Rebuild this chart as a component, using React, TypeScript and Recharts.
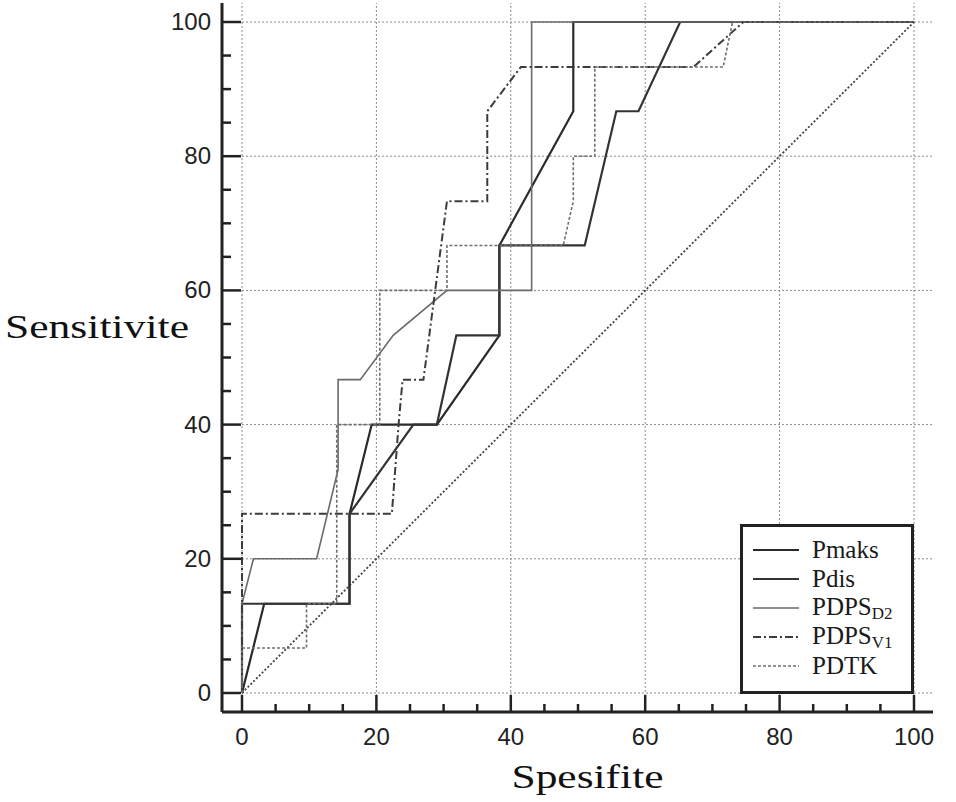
import { LineChart, Line, XAxis, YAxis, ReferenceLine, Legend } from 'recharts'

// axis ticks: labels every 20, small ticks every 5
const TICKS = [0, 5, 10, 15, 20, 25, 30, 35, 40, 45, 50, 55, 60, 65, 70, 75, 80, 85, 90, 95, 100]
const GRID = [0, 20, 40, 60, 80, 100]

// ROC curves (x = "Spesifite" axis, y = "Sensitivite")
const pmaksX = [0, 3.3, 16, 16, 19.3, 29, 38.3, 38.3, 49.3, 49.3, 100]
const pmaksY = [0, 13.3, 13.3, 26.7, 40, 40, 53.3, 66.7, 86.7, 100, 100]

const pdisX = [0, 0, 16, 16, 25.5, 29, 31.9, 38.3, 38.3, 51, 55.7, 59, 65.2, 100]
const pdisY = [0, 13.3, 13.3, 26.7, 40, 40, 53.3, 53.3, 66.7, 66.7, 86.7, 86.7, 100, 100]

const pdpsD2X = [0, 0, 1.7, 11.1, 14.3, 14.3, 17.6, 22.5, 30.5, 43.1, 43.1, 100]
const pdpsD2Y = [0, 13.3, 20, 20, 33.3, 46.7, 46.7, 53.3, 60, 60, 100, 100]

const pdpsV1X = [0, 0, 22.3, 23.3, 23.9, 27, 30.5, 36.5, 36.5, 41.5, 67.2, 74.6, 100]
const pdpsV1Y = [0, 26.7, 26.7, 40, 46.7, 46.7, 73.3, 73.3, 86.7, 93.3, 93.3, 100, 100]

const pdtkX = [0, 0, 9.6, 9.6, 14.1, 14.1, 20.5, 20.5, 30.5, 30.5, 47.8, 49.3, 49.3, 52.5, 52.5, 71.6, 73, 100]
const pdtkY = [0, 6.7, 6.7, 13.3, 13.3, 40, 40, 60, 60, 66.7, 66.7, 73.3, 80, 80, 93.3, 93.3, 100, 100]

const chanceX = [0, 100]
const chanceY = [0, 100]

function toPoints(xs: number[], ys: number[]) {
  return xs.map((x, i) => ({ x, y: ys[i] }))
}

const SERIES = [
  { name: 'Pmaks', sub: '', data: toPoints(pmaksX, pmaksY), stroke: '#2a2a2a', width: 2.2, dash: undefined },
  { name: 'Pdis', sub: '', data: toPoints(pdisX, pdisY), stroke: '#333333', width: 2.2, dash: undefined },
  { name: 'PDPS', sub: 'D2', data: toPoints(pdpsD2X, pdpsD2Y), stroke: '#6a6a6a', width: 1.6, dash: undefined },
  { name: 'PDPS', sub: 'V1', data: toPoints(pdpsV1X, pdpsV1Y), stroke: '#3c3c3c', width: 2, dash: '8 3 2 3' },
  { name: 'PDTK', sub: '', data: toPoints(pdtkX, pdtkY), stroke: '#6e6e6e', width: 1.6, dash: '3 2' },
]

const AXIS = '#222'
const SANS = '"Liberation Sans", Arial, sans-serif'
const SERIF = '"Liberation Serif", "Times New Roman", serif'

function YTick({ x, y, payload }: any) {
  const v = payload.value
  const major = v % 20 === 0
  return (
    <g>
      <line x1={x} x2={x + (major ? 19 : 9)} y1={y} y2={y} stroke={AXIS} strokeWidth={2.5} />
      {major && (
        <text x={x - 11} y={y + 8} textAnchor="end" fontFamily={SANS} fontSize={24} fill="#222">
          {v}
        </text>
      )}
    </g>
  )
}

function XTick({ x, y, payload }: any) {
  const v = payload.value
  const major = v % 20 === 0
  return (
    <g>
      <line x1={x} x2={x} y1={y} y2={y - (major ? 17 : 8)} stroke={AXIS} strokeWidth={2.5} />
      {major && (
        <text x={x} y={y + 33} textAnchor="middle" fontFamily={SANS} fontSize={24} fill="#222">
          {v}
        </text>
      )}
    </g>
  )
}

function YTitle({ viewBox }: any) {
  return (
    <text
      x={viewBox.x + 5}
      y={viewBox.y + viewBox.height / 2 - 20}
      fontFamily={SERIF}
      fontSize={34}
      fill="#111"
      textLength={184}
      lengthAdjust="spacingAndGlyphs"
    >
      Sensitivite
    </text>
  )
}

function XTitle({ viewBox }: any) {
  return (
    <text
      x={viewBox.x + viewBox.width / 2 + 10}
      y={viewBox.y + 76}
      textAnchor="middle"
      fontFamily={SERIF}
      fontSize={34}
      fill="#111"
      textLength={152}
      lengthAdjust="spacingAndGlyphs"
    >
      Spesifite
    </text>
  )
}

function LegendBox() {
  return (
    <div
      style={{
        border: `3px solid ${AXIS}`,
        background: '#fff',
        boxSizing: 'border-box',
        width: 174,
        height: 170,
        padding: '8px 0 0 10px',
        fontFamily: SERIF,
        fontSize: 25,
        color: '#1a1a1a',
      }}
    >
      {SERIES.map((s) => (
        <div key={s.name + s.sub} style={{ display: 'flex', alignItems: 'center', height: 29 }}>
          <svg width={46} height={10} style={{ marginRight: 13 }}>
            <line x1={0} x2={46} y1={5} y2={5} stroke={s.stroke} strokeWidth={s.width} strokeDasharray={s.dash} />
          </svg>
          <span style={{ lineHeight: '29px' }}>
            {s.name}
            {s.sub && <span style={{ fontSize: 17, position: 'relative', top: 4 }}>{s.sub}</span>}
          </span>
        </div>
      ))}
    </div>
  )
}

export default function App() {
  return (
    <div style={{ position: 'absolute', left: 0, top: 0, width: 956, height: 802, background: '#fff' }}>
      <LineChart width={956} height={802} margin={{ top: 3, right: 23, left: 0, bottom: 0 }}>
        <XAxis
          type="number"
          dataKey="x"
          domain={[0, 100]}
          ticks={TICKS}
          interval={0}
          height={90}
          padding={{ left: 20, right: 19 }}
          tickSize={0}
          tickMargin={0}
          tick={<XTick />}
          axisLine={{ stroke: AXIS, strokeWidth: 3 }}
          tickLine={false}
          label={<XTitle />}
          allowDuplicatedCategory={false}
        />
        <YAxis
          type="number"
          dataKey="y"
          domain={[0, 100]}
          ticks={TICKS}
          interval={0}
          width={222}
          padding={{ top: 19, bottom: 19 }}
          tickSize={0}
          tickMargin={0}
          tick={<YTick />}
          axisLine={{ stroke: AXIS, strokeWidth: 3 }}
          tickLine={false}
          label={<YTitle />}
        />
        {GRID.map((g) => (
          <ReferenceLine key={'vx' + g} x={g} stroke="#8a8a8a" strokeDasharray="2 2" strokeWidth={1} />
        ))}
        {GRID.map((g) => (
          <ReferenceLine key={'hy' + g} y={g} stroke="#8a8a8a" strokeDasharray="2 2" strokeWidth={1} />
        ))}
        <Line
          data={toPoints(chanceX, chanceY)}
          dataKey="y"
          type="linear"
          stroke="#444"
          strokeWidth={1.8}
          strokeDasharray="2 2"
          dot={false}
          legendType="none"
          isAnimationActive={false}
        />
        {SERIES.map((s) => (
          <Line
            key={s.name + s.sub}
            name={s.name + s.sub}
            data={s.data}
            dataKey="y"
            type="linear"
            stroke={s.stroke}
            strokeWidth={s.width}
            strokeDasharray={s.dash}
            dot={false}
            isAnimationActive={false}
          />
        ))}
        <Legend
          layout="vertical"
          align="center"
          verticalAlign="middle"
          content={<LegendBox />}
          wrapperStyle={{ left: 740, top: 524, width: 174, height: 170 }}
        />
      </LineChart>
    </div>
  )
}
